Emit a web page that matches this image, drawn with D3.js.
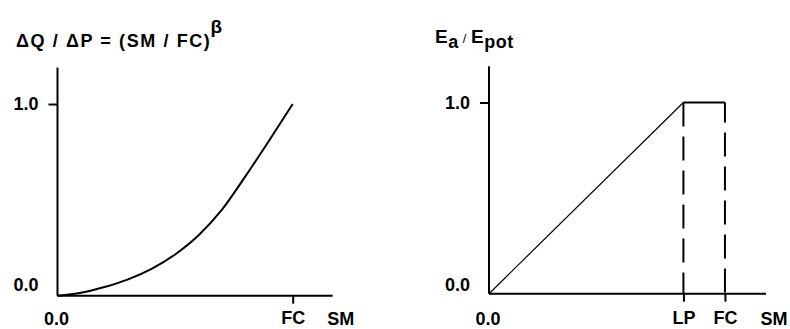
<!DOCTYPE html>
<html lang="en">
<head>
<meta charset="utf-8">
<title>HBV soil routine</title>
<script src="https://cdn.jsdelivr.net/npm/d3@7"></script>
<style>
    body { margin: 0; background: #fff; }
    svg text { font-family: "Liberation Sans", Arial, sans-serif; font-weight: bold; fill: #000; }
    .axis path, .axis line { stroke: #000; stroke-width: 2; }
    .axis text { font-size: 18px; }
    .lbl { font-size: 18px; }
</style>
</head>
<body>
<script>
// left panel: runoff ratio vs relative soil moisture (SM / FC)
const recharge_x = [0, 0.1, 0.2, 0.3, 0.4, 0.5, 0.6, 0.7, 0.8, 0.9, 1.0];
const recharge_y = [0, 0.015, 0.045, 0.085, 0.14, 0.215, 0.315, 0.45, 0.625, 0.81, 1.0];

// right panel: actual / potential evaporation
const evap_x = [0, 0.824, 1.0];   // 0, LP, FC
const evap_y = [0, 1.0, 1.0];

const xTickLabels = { left: ["FC"], right: ["LP", "FC"] };
const xTickValues = { left: [1.0], right: [0.824, 1.0] };
const yTickValues = [1.0];

var w = 790, h = 329;
var svg = d3.select("body").append("svg")
    .attr("width", w)
    .attr("height", h);

function panel(opts) {
    var x = d3.scaleLinear().domain([0, opts.xmax]).range(opts.xr);
    var y = d3.scaleLinear().domain([0, opts.ymax]).range(opts.yr);

    var g = svg.append("g");

    // y axis
    g.append("g").attr("class", "axis")
        .attr("transform", "translate(" + opts.xr[0] + ",0)")
        .call(d3.axisLeft(y).tickValues(yTickValues).tickSize(9).tickSizeOuter(0)
            .tickPadding(10).tickFormat(d3.format(".1f")))
        .call(a => a.select(".domain").attr("d", "M0," + opts.yr[0] + "V" + opts.yr[1]));

    // x axis
    g.append("g").attr("class", "axis")
        .attr("transform", "translate(0," + opts.yr[0] + ")")
        .call(d3.axisBottom(x).tickValues(opts.xticks).tickSize(8).tickSizeOuter(0)
            .tickPadding(opts.xpad).tickFormat((d, i) => opts.xlabels[i]))
        .call(a => a.select(".domain").attr("d", "M" + opts.xr[0] + ",0H" + opts.xr[1]));

    g.selectAll(".axis text").attr("fill", "#000");

    // origin labels
    g.append("text").attr("class", "lbl").attr("x", opts.xr[0] - 19).attr("y", 291)
        .attr("text-anchor", "end").text("0.0");
    g.append("text").attr("class", "lbl").attr("x", x(0) - 1).attr("y", 325)
        .attr("text-anchor", "middle").text("0.0");
    g.append("text").attr("class", "lbl").attr("x", opts.xr[1] + 8).attr("y", 325)
        .attr("text-anchor", "middle").text("SM");

    return { g: g, x: x, y: y };
}

// ---- left panel
var L = panel({
    xmax: 1.17, ymax: 1.19,
    xr: [57.5, 332.7], yr: [295.7, 67.6], xpad: 8,
    xticks: xTickValues.left, xlabels: xTickLabels.left
});

L.g.append("path")
    .datum(recharge_x.map((d, i) => [d, recharge_y[i]]))
    .attr("fill", "none")
    .attr("stroke", "#000")
    .attr("stroke-width", 2)
    .attr("d", d3.line().x(d => L.x(d[0])).y(d => L.y(d[1])).curve(d3.curveMonotoneX));

var t1 = L.g.append("text").attr("x", 16).attr("y", 47)
    .style("font-size", "18px").style("letter-spacing", "1.6px");
t1.append("tspan").text("\u0394Q / \u0394P = (SM / FC)");
t1.append("tspan").attr("dy", -14).attr("dx", -1).style("font-size", "19px").text("\u03B2");

// ---- right panel
var R = panel({
    xmax: 1.174, ymax: 1.19,
    xr: [489, 766], yr: [293.7, 66.2], xpad: 10,
    xticks: xTickValues.right, xlabels: xTickLabels.right
});

// rising part, thin
R.g.append("line")
    .attr("x1", R.x(evap_x[0])).attr("y1", R.y(evap_y[0]))
    .attr("x2", R.x(evap_x[1])).attr("y2", R.y(evap_y[1]))
    .attr("stroke", "#000").attr("stroke-width", 1.2);

// plateau
R.g.append("line")
    .attr("x1", R.x(evap_x[1])).attr("y1", R.y(evap_y[1]))
    .attr("x2", R.x(evap_x[2])).attr("y2", R.y(evap_y[2]))
    .attr("stroke", "#000").attr("stroke-width", 2);

// dashed verticals at LP and FC
R.g.selectAll(".drop")
    .data(evap_x.slice(1))
    .enter().append("line")
    .attr("class", "drop")
    .attr("x1", d => R.x(d)).attr("x2", d => R.x(d))
    .attr("y1", R.y(1)).attr("y2", R.y(0))
    .attr("stroke", "#000").attr("stroke-width", 2)
    .attr("stroke-dasharray", "24,10")
    .attr("stroke-dashoffset", (d, i) => i ? 4 : 0);

var t2 = R.g.append("text").attr("x", 435).attr("y", 43)
    .style("font-size", "19px").style("letter-spacing", "0.5px");
t2.append("tspan").text("E");
t2.append("tspan").attr("dy", 5).style("font-size", "18px").text("a");
t2.append("tspan").attr("dy", -5).style("font-size", "13px").style("font-weight", "normal").text(" / ");
t2.append("tspan").text("E");
t2.append("tspan").attr("dy", 5).style("font-size", "18px").text("pot");
</script>
</body>
</html>
